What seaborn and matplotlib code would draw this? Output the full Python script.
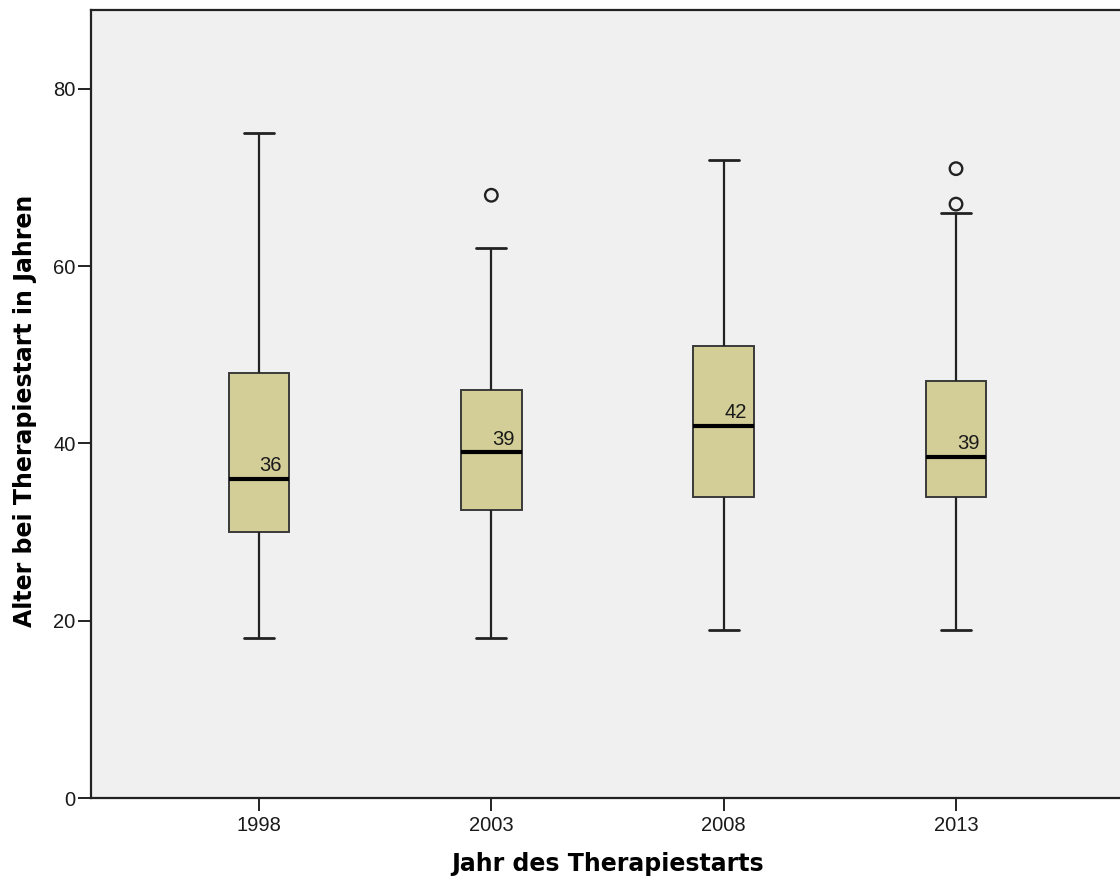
import matplotlib
matplotlib.use("Agg")
import matplotlib.pyplot as plt
import seaborn as sns
import pandas as pd

# Five-number summaries of patient age at therapy start, per start year
years = ["1998", "2003", "2008", "2013"]
whisker_low = [18, 18, 19, 19]
q1 = [30, 32.5, 34, 34]
median = [36, 39, 42, 38.5]
q3 = [48, 46, 51, 47]
whisker_high = [75, 62, 72, 66]

# Outliers beyond the upper whisker
outlier_years = ["2003", "2013", "2013"]
outlier_ages = [68, 67, 71]

# Long-form table: each group holds its five summary values, so the
# box statistics come out exactly at those values
rows = []
for i, y in enumerate(years):
    for v in (whisker_low[i], q1[i], median[i], q3[i], whisker_high[i]):
        rows.append({"Jahr": y, "Alter": v})
summary = pd.DataFrame(rows)
outliers = pd.DataFrame({"Jahr": outlier_years, "Alter": outlier_ages})

sns.set_theme(style="white")
plt.rcParams["font.family"] = ["Liberation Sans", "DejaVu Sans"]

W, H = 1120, 881
fig = plt.figure(figsize=(W / 100, H / 100), dpi=100)
ax = fig.add_axes([91 / W, (H - 798) / H, 1033 / W, 788 / H])
ax.set_facecolor("#F0F0F0")

line_col = "#222222"
sns.boxplot(
    data=summary, x="Jahr", y="Alter", order=years,
    whis=(0, 100), width=0.26, color="#D3CE97", saturation=1,
    linecolor=line_col, linewidth=1.4,
    boxprops=dict(edgecolor="#3a3a3a"),
    medianprops=dict(color="black", linewidth=3),
    whiskerprops=dict(linewidth=1.6),
    capprops=dict(linewidth=2.0),
    showfliers=False, ax=ax,
)
sns.stripplot(
    data=outliers, x="Jahr", y="Alter", order=years, jitter=False,
    marker="o", size=9, facecolor="none", edgecolor="#222222",
    linewidth=1.7, color="none", ax=ax, zorder=5,
)
# stripplot marker faces: keep hollow circles
for coll in ax.collections:
    coll.set_facecolor("none")
    coll.set_edgecolor("#222222")

# Median value labels
for i, m in enumerate(median):
    ax.annotate(f"{int(m + 0.5)}", xy=(i, m), xytext=(0.5, 2.5),
                textcoords="offset points", ha="left", va="bottom",
                fontsize=14.5, color="#1a1a1a")

ax.set_xlim(-0.723, 3.723)
ax.set_ylim(0, 88.9)
ax.set_yticks([0, 20, 40, 60, 80])

for side in ("left", "bottom", "top"):
    ax.spines[side].set_visible(True)
    ax.spines[side].set_color("#222222")
    ax.spines[side].set_linewidth(1.6)
ax.spines["right"].set_visible(False)

ax.tick_params(axis="both", which="major", direction="out", length=9.5,
               width=1.4, color="#222222", labelsize=14.5,
               labelcolor="#1a1a1a", bottom=True, left=True,
               top=False, right=False)
ax.tick_params(axis="y", pad=1.5)
ax.tick_params(axis="x", pad=3.5)

label_font = dict(family="DejaVu Sans", fontweight="bold", fontsize=17,
                  color="black")
ax.set_xlabel("Jahr des Therapiestarts", labelpad=12, **label_font)
ax.set_ylabel("Alter bei Therapiestart in Jahren", labelpad=12, **label_font)
ax.yaxis.label.set_y(0.491)

fig.savefig("out.png", dpi=100)
